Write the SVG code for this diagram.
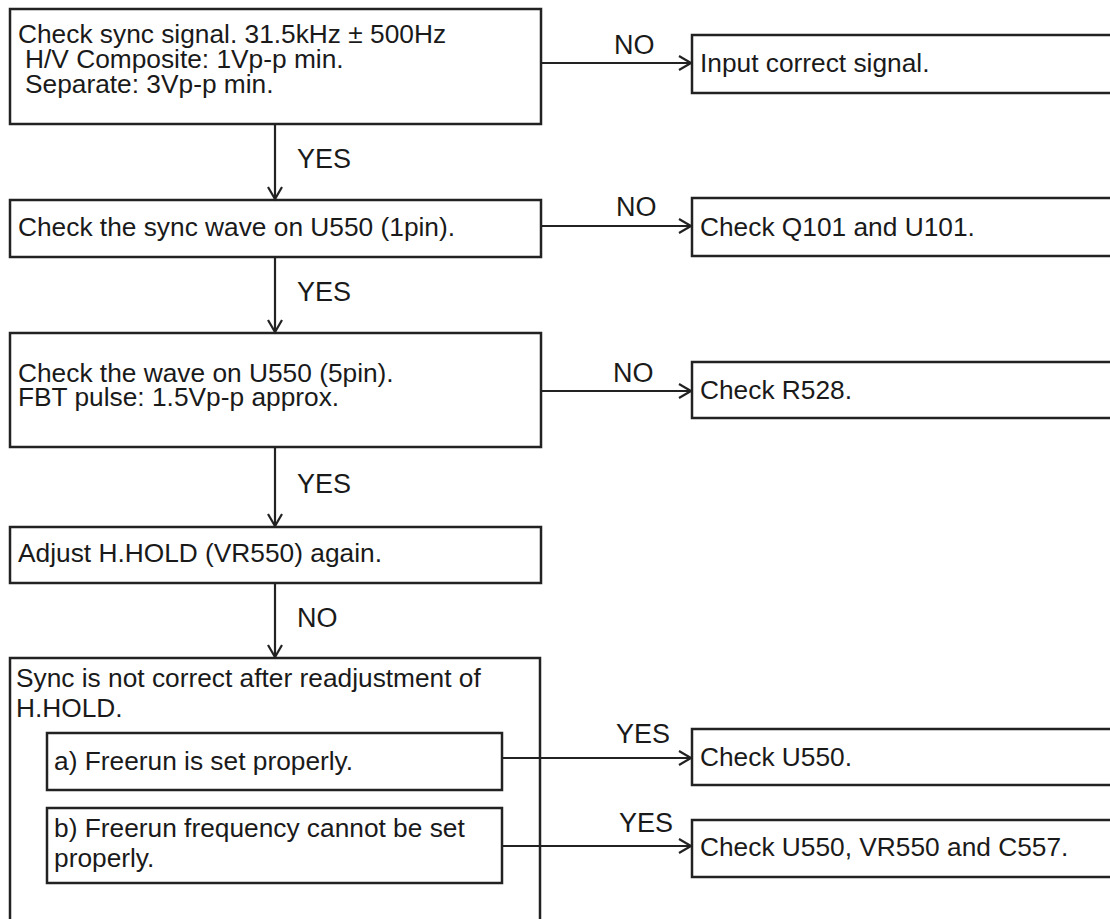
<svg xmlns="http://www.w3.org/2000/svg" width="1110" height="919" viewBox="0 0 1110 919">
<style>
.box{fill:#fff;stroke:#222;stroke-width:2.5}
.sub{fill:none;stroke:#222;stroke-width:2.5}
.t{font-family:"Liberation Sans",Arial,Helvetica,sans-serif;font-size:26.3px;fill:#1a1a1a}
.lbl{font-family:"Liberation Sans",Arial,Helvetica,sans-serif;font-size:27px;fill:#1a1a1a}
.c{fill:none;stroke:#222;stroke-width:2.2}
</style>
<defs>
<marker id="ah" markerUnits="userSpaceOnUse" markerWidth="16" markerHeight="18" refX="13" refY="8" orient="auto" viewBox="0 0 16 18">
<path d="M1,1 L13,8 L1,15" fill="none" stroke="#222" stroke-width="2.2"/>
</marker>
</defs>
<rect width="1110" height="919" fill="#fff"/>
<g id="n1">
<rect class="box" x="10" y="9" width="531" height="115"/>
<text class="t" x="18" y="43">Check sync signal. 31.5kHz ± 500Hz</text>
<text class="t" x="25" y="68">H/V Composite: 1Vp-p min.</text>
<text class="t" x="25" y="93">Separate: 3Vp-p min.</text>
</g>
<g id="n2">
<rect class="box" x="692" y="35" width="430" height="58"/>
<text class="t" x="700" y="72">Input correct signal.</text>
</g>
<g id="n3">
<rect class="box" x="10" y="200" width="531" height="57"/>
<text class="t" x="18" y="236">Check the sync wave on U550 (1pin).</text>
</g>
<g id="n4">
<rect class="box" x="692" y="198" width="430" height="58"/>
<text class="t" x="700" y="236">Check Q101 and U101.</text>
</g>
<g id="n5">
<rect class="box" x="10" y="333" width="531" height="114"/>
<text class="t" x="18" y="382">Check the wave on U550 (5pin).</text>
<text class="t" x="18" y="406">FBT pulse: 1.5Vp-p approx.</text>
</g>
<g id="n6">
<rect class="box" x="692" y="362" width="430" height="56"/>
<text class="t" x="700" y="399">Check R528.</text>
</g>
<g id="n7">
<rect class="box" x="10" y="527" width="531" height="56"/>
<text class="t" x="18" y="562">Adjust H.HOLD (VR550) again.</text>
</g>
<g id="n8">
<rect class="box" x="10" y="658" width="530" height="290"/>
<text class="t" x="16" y="687">Sync is not correct after readjustment of</text>
<text class="t" x="16" y="717">H.HOLD.</text>
</g>
<g id="n8a">
<rect class="sub" x="47" y="733" width="455" height="57"/>
<text class="t" x="54" y="770">a) Freerun is set properly.</text>
</g>
<g id="n8b">
<rect class="sub" x="47" y="808" width="455" height="75"/>
<text class="t" x="54" y="837">b) Freerun frequency cannot be set</text>
<text class="t" x="54" y="867">properly.</text>
</g>
<g id="n9">
<rect class="box" x="692" y="729" width="430" height="56"/>
<text class="t" x="700" y="766">Check U550.</text>
</g>
<g id="n10">
<rect class="box" x="692" y="820" width="430" height="57"/>
<text class="t" x="700" y="856">Check U550, VR550 and C557.</text>
</g>
<g id="connectors">
<path class="c" d="M541,63 H691" marker-end="url(#ah)"/>
<path class="c" d="M541,226 H691" marker-end="url(#ah)"/>
<path class="c" d="M541,391 H691" marker-end="url(#ah)"/>
<path class="c" d="M502,758 H691" marker-end="url(#ah)"/>
<path class="c" d="M502,846 H691" marker-end="url(#ah)"/>
<path class="c" d="M275,124 V199" marker-end="url(#ah)"/>
<path class="c" d="M275,257 V332" marker-end="url(#ah)"/>
<path class="c" d="M275,447 V526" marker-end="url(#ah)"/>
<path class="c" d="M275,583 V657" marker-end="url(#ah)"/>
<text class="lbl" x="614" y="54">NO</text>
<text class="lbl" x="616" y="216">NO</text>
<text class="lbl" x="613" y="382">NO</text>
<text class="lbl" x="616" y="743">YES</text>
<text class="lbl" x="619" y="832">YES</text>
<text class="lbl" x="297" y="168">YES</text>
<text class="lbl" x="297" y="301">YES</text>
<text class="lbl" x="297" y="493">YES</text>
<text class="lbl" x="297" y="627">NO</text>
</g>
</svg>
